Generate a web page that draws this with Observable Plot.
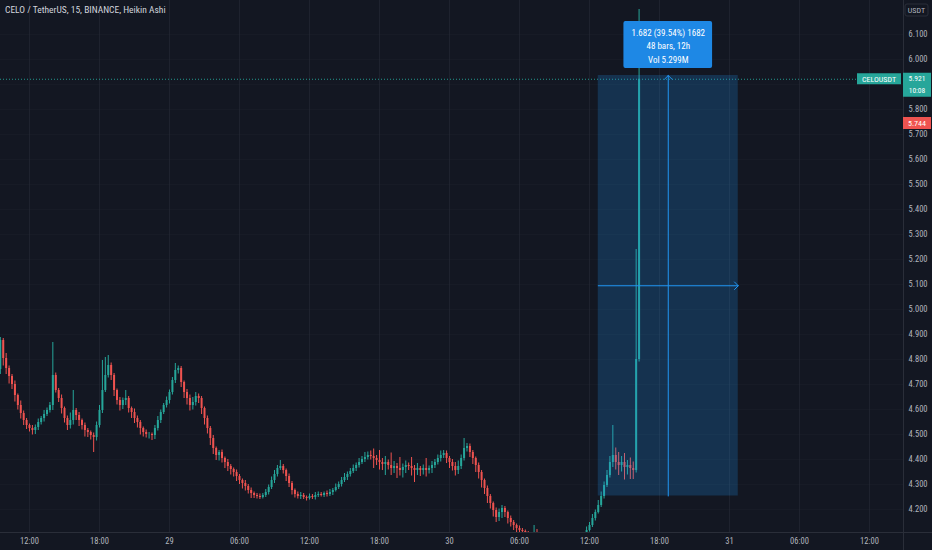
<!DOCTYPE html>
<html><head><meta charset="utf-8">
<script src="https://cdn.jsdelivr.net/npm/d3@7"></script>
<script src="https://cdn.jsdelivr.net/npm/@observablehq/plot@0.6"></script>
<style>
html,body{margin:0;padding:0;background:#131722;}
#wrap{position:relative;width:932px;height:550px;overflow:hidden;background:#131722;}
#title{position:absolute;left:5px;top:4px;color:#d1d4dc;font:9.5px "Liberation Sans Narrow","Roboto Condensed","Liberation Sans",sans-serif;white-space:nowrap;}
svg{display:block;}
</style></head><body><div id="wrap"><div id="title">CELO / TetherUS, 15, BINANCE, Heikin Ashi</div></div>
<script>
// ---- data (15-minute Heikin Ashi bars starting 2021-08-28 09:30 UTC) ----
const startTime = Date.UTC(2021, 7, 28, 9, 30);
const barMinutes = 15;
const firstOpen = 4.760;
const closes = [
4.876,4.804,4.764,4.732,4.700,4.656,4.616,4.584,4.556,4.536,
4.524,4.516,4.528,4.548,4.564,4.580,4.596,4.616,4.736,4.676,
4.644,4.604,4.564,4.536,4.556,4.596,4.576,4.556,4.536,4.516,
4.508,4.496,4.488,4.536,4.596,4.676,4.736,4.776,4.736,4.676,
4.636,4.616,4.636,4.644,4.604,4.588,4.564,4.548,4.524,4.508,
4.500,4.500,4.496,4.524,4.556,4.588,4.616,4.636,4.668,4.716,
4.756,4.764,4.708,4.668,4.644,4.616,4.628,4.652,4.644,4.604,
4.564,4.524,4.484,4.444,4.416,4.428,4.404,4.388,4.372,4.360,
4.348,4.332,4.316,4.304,4.292,4.276,4.264,4.256,4.252,4.248,
4.256,4.268,4.288,4.316,4.340,4.364,4.372,4.356,4.332,4.304,
4.276,4.260,4.252,4.256,4.248,4.244,4.252,4.248,4.256,4.260,
4.256,4.264,4.260,4.268,4.276,4.288,4.300,4.316,4.328,4.340,
4.352,4.364,4.376,4.388,4.400,4.408,4.416,4.412,4.404,4.396,
4.388,4.380,4.388,4.376,4.364,4.372,4.364,4.356,4.368,4.376,
4.372,4.364,4.356,4.364,4.356,4.364,4.356,4.364,4.376,4.388,
4.404,4.416,4.424,4.404,4.388,4.372,4.356,4.372,4.404,4.444,
4.452,4.428,4.404,4.376,4.348,4.316,4.284,4.252,4.224,4.196,
4.168,4.188,4.204,4.188,4.164,4.148,4.136,4.124,4.116,4.112,
4.104,4.096,4.092,4.108,4.100,4.076,4.056,4.036,4.024,4.012,
4.004,4.000,3.996,4.004,4.012,4.024,4.036,4.052,4.068,4.084,
4.096,4.116,4.136,4.164,4.188,4.216,4.252,4.296,4.336,4.388,
4.416,4.388,4.376,4.388,4.368,4.376,4.364,4.356,4.800,5.921];
// upper / lower wick lengths in thousandths of a USDT
const wickHi = [
12,8,20,10,8,14,6,18,10,8, 6,12,10,14,8,16,10,12,132,10,
8,14,6,10,30,80,8,12,6,10, 8,6,10,14,20,120,72,40,10,8,
6,12,10,32,8,6,14,10,8,6, 10,8,6,12,16,10,8,14,10,12,
28,10,8,6,12,14,20,16,10,8, 6,10,8,12,6,8,10,6,12,8,
6,10,8,6,12,8,10,6,8,10, 8,12,10,14,16,12,24,8,6,10,
8,6,10,12,8,6,10,8,12,10, 8,6,10,12,8,14,10,12,16,10,
12,14,10,16,12,20,14,18,30,12, 40,16,24,10,50,20,12,44,14,18,
10,36,12,20,8,14,40,10,16,12, 14,18,12,10,8,12,16,22,14,40,
12,10,8,6,10,8,6,10,8,6, 10,14,12,8,6,10,8,6,10,8,
6,8,10,28,12,8,10,6,8,10, 8,6,10,8,12,10,14,8,10,12,
10,14,12,16,10,20,18,14,20,24, 120,30,40,24,36,20,30,26,440,279];
const wickLo = [
20,30,24,30,20,26,18,22,20,16, 14,18,16,12,10,14,8,10,20,10,
16,22,18,20,14,18,20,24,18,26, 20,18,60,14,10,12,8,10,20,24,
18,22,16,20,18,24,20,22,26,18, 14,18,20,16,10,12,8,10,14,10,
12,14,20,24,26,22,18,14,20,24, 26,22,28,24,20,22,18,24,20,22,
18,20,16,22,18,14,20,12,10,8, 6,8,10,8,12,10,8,14,20,16,
18,14,10,12,8,10,6,8,10,8, 6,8,10,8,12,6,8,10,8,12,
10,8,12,10,8,12,10,14,40,20, 30,24,44,18,28,20,40,22,30,24,
16,30,48,20,24,18,26,14,20,12, 10,14,12,20,24,18,22,16,12,10,
14,20,24,28,26,30,24,28,22,26, 20,16,24,20,22,18,20,16,18,14,
16,12,14,10,12,10,8,10,12,10, 8,10,8,6,8,10,8,6,8,10,
6,8,6,8,10,6,8,10,8,10, 20,30,40,26,50,30,44,36,10,10];

const yGrid = [4.2,4.3,4.4,4.5,4.6,4.7,4.8,4.9,5.0,5.1,5.2,5.3,5.4,5.5,5.6,5.7,5.8,5.9,6.0,6.1];
// 5.900 is hidden behind the last-price badge in the reference
const yTickLabels = [4.2,4.3,4.4,4.5,4.6,4.7,4.8,4.9,5.0,5.1,5.2,5.3,5.4,5.5,5.6,5.7,5.8,6.0,6.1];
const xTickTimes = [
  Date.UTC(2021,7,28,12), Date.UTC(2021,7,28,18), Date.UTC(2021,7,29,0), Date.UTC(2021,7,29,6),
  Date.UTC(2021,7,29,12), Date.UTC(2021,7,29,18), Date.UTC(2021,7,30,0), Date.UTC(2021,7,30,6),
  Date.UTC(2021,7,30,12), Date.UTC(2021,7,30,18), Date.UTC(2021,7,31,0), Date.UTC(2021,7,31,6),
  Date.UTC(2021,7,31,12)];
const xTickLabels = ["12:00","18:00","29","06:00","12:00","18:00","30","06:00","12:00","18:00","31","06:00","12:00"];

const lastPrice = 5.921;
const redPrice = 5.744;
const measureStart = Date.UTC(2021,7,30,12,45);
const measureEnd = Date.UTC(2021,7,31,0,45);
const measureLow = 4.254;
const measureHigh = 5.936;
const measureLines = ["1.682 (39.54%) 1682", "48 bars, 12h", "Vol 5.299M"];

// ---- build ----
const GREEN = "#26a69a", RED = "#ef5350", BLUE = "#2196f3";
const FONT = '"Liberation Sans Narrow","Roboto Condensed","Liberation Sans",sans-serif';
const bars = closes.map((c, i) => {
  const o = i === 0 ? firstOpen : closes[i - 1];
  return {t: new Date(startTime + i * barMinutes * 60000), o, c,
          h: Math.max(o, c) + wickHi[i] / 1000, l: Math.min(o, c) - wickLo[i] / 1000, up: c >= o};
});
const upBars = bars.filter(d => d.up), downBars = bars.filter(d => !d.up);
const xTicks = xTickTimes.map(t => new Date(t));
const labelOf = new Map(xTickTimes.map((t, i) => [t, xTickLabels[i]]));
const midT = new Date((measureStart + measureEnd) / 2);
const midP = (measureLow + measureHigh) / 2;
const measure = [{x1: new Date(measureStart), x2: new Date(measureEnd), y1: measureLow, y2: measureHigh}];
const tipHalf = 3.8 * 3600000;
const tip = [{x1: new Date(+midT - tipHalf), x2: new Date(+midT + tipHalf), y1: 5.964, y2: 6.152}];

const plot = Plot.plot({
  width: 932, height: 550,
  marginLeft: 0, marginRight: 29, marginTop: 0, marginBottom: 18,
  style: {background: "#131722", color: "#b2b5be", fontFamily: FONT, fontSize: "8.5px", overflow: "visible"},
  x: {type: "utc", domain: [new Date(Date.UTC(2021,7,28,9,30,51)), new Date(Date.UTC(2021,7,31,14,54,51))], axis: null},
  y: {domain: [4.108, 6.236], axis: null},
  marks: [
    Plot.gridX(xTicks, {stroke: "#2a2e39", strokeOpacity: 0.5}),
    Plot.gridY(yGrid, {stroke: "#2a2e39", strokeOpacity: 0.2}),
    Plot.ruleY([lastPrice], {stroke: GREEN, strokeDasharray: "1,2", strokeOpacity: 0.9}),
    Plot.ruleX(upBars, {x: "t", y1: "l", y2: "h", stroke: GREEN, strokeWidth: 1, clip: true}),
    Plot.ruleX(downBars, {x: "t", y1: "l", y2: "h", stroke: RED, strokeWidth: 1, clip: true}),
    Plot.ruleX(upBars, {x: "t", y1: "o", y2: "c", stroke: GREEN, strokeWidth: 2, clip: true}),
    Plot.ruleX(downBars, {x: "t", y1: "o", y2: "c", stroke: RED, strokeWidth: 2, clip: true}),
    Plot.rect(measure, {x1: "x1", x2: "x2", y1: "y1", y2: "y2", fill: BLUE, fillOpacity: 0.22}),
    Plot.arrow([{a: midT, b: measureLow, c: midT, d: measureHigh}], {x1: "a", y1: "b", x2: "c", y2: "d", stroke: BLUE, strokeWidth: 1, headLength: 8, headAngle: 90}),
    Plot.arrow([{a: new Date(measureStart), b: midP, c: new Date(measureEnd), d: midP}], {x1: "a", y1: "b", x2: "c", y2: "d", stroke: BLUE, strokeWidth: 1, headLength: 8, headAngle: 90}),
    Plot.rect(tip, {x1: "x1", x2: "x2", y1: "y1", y2: "y2", fill: "#1e88e5", rx: 2}),
    Plot.text([measureLines.join("\n")], {x: midT, y: (5.964 + 6.152) / 2, fill: "white", fontSize: 9, lineHeight: 1.55, textAnchor: "middle", lineAnchor: "middle"}),
    Plot.axisX(xTicks, {tickSize: 0, tickPadding: 5, tickFormat: d => labelOf.get(+d), fill: "#b2b5be", fontSize: 8.5}),
    Plot.axisY(yTickLabels, {anchor: "right", tickSize: 0, tickPadding: 5, tickFormat: d => d.toFixed(3), fill: "#b2b5be", fontSize: 8.5})
  ]
});
document.getElementById("wrap").prepend(plot);

// frame lines and price labels (positions through the plot's scales)
const svg = d3.select(plot);
const ys = plot.scale("y");
svg.append("line").attr("x1", 903.5).attr("x2", 903.5).attr("y1", 0).attr("y2", 550).attr("stroke", "#2a2e39");
svg.append("line").attr("x1", 0).attr("x2", 932).attr("y1", 532.5).attr("y2", 532.5).attr("stroke", "#2a2e39");
const g = svg.append("g").attr("font-family", FONT).attr("font-size", 8);
// USDT badge
g.append("rect").attr("x", 905).attr("y", 4).attr("width", 23).attr("height", 12).attr("rx", 2).attr("fill", "#131722").attr("stroke", "#2a2e39");
g.append("text").attr("x", 916.5).attr("y", 13).attr("text-anchor", "middle").attr("fill", "#b2b5be").text("USDT");
// last price
const yl = ys.apply(lastPrice);
g.append("rect").attr("x", 857).attr("y", yl - 5.5).attr("width", 44).attr("height", 11).attr("fill", GREEN);
g.append("text").attr("x", 879).attr("y", yl + 3).attr("text-anchor", "middle").attr("fill", "white").text("CELOUSDT");
g.append("rect").attr("x", 903).attr("y", yl - 6).attr("width", 28).attr("height", 24).attr("fill", GREEN);
g.append("text").attr("x", 917).attr("y", yl + 2.5).attr("font-size", 7.5).attr("text-anchor", "middle").attr("fill", "white").text(lastPrice.toFixed(3));
g.append("text").attr("x", 917).attr("y", yl + 14.5).attr("font-size", 7.5).attr("text-anchor", "middle").attr("fill", "white").text("10:08");
// red price
const yr = ys.apply(redPrice);
g.append("rect").attr("x", 903).attr("y", yr - 6).attr("width", 28).attr("height", 12).attr("fill", RED);
g.append("text").attr("x", 917).attr("y", yr + 3).attr("text-anchor", "middle").attr("fill", "white").text(redPrice.toFixed(3));
</script>
</body></html>
